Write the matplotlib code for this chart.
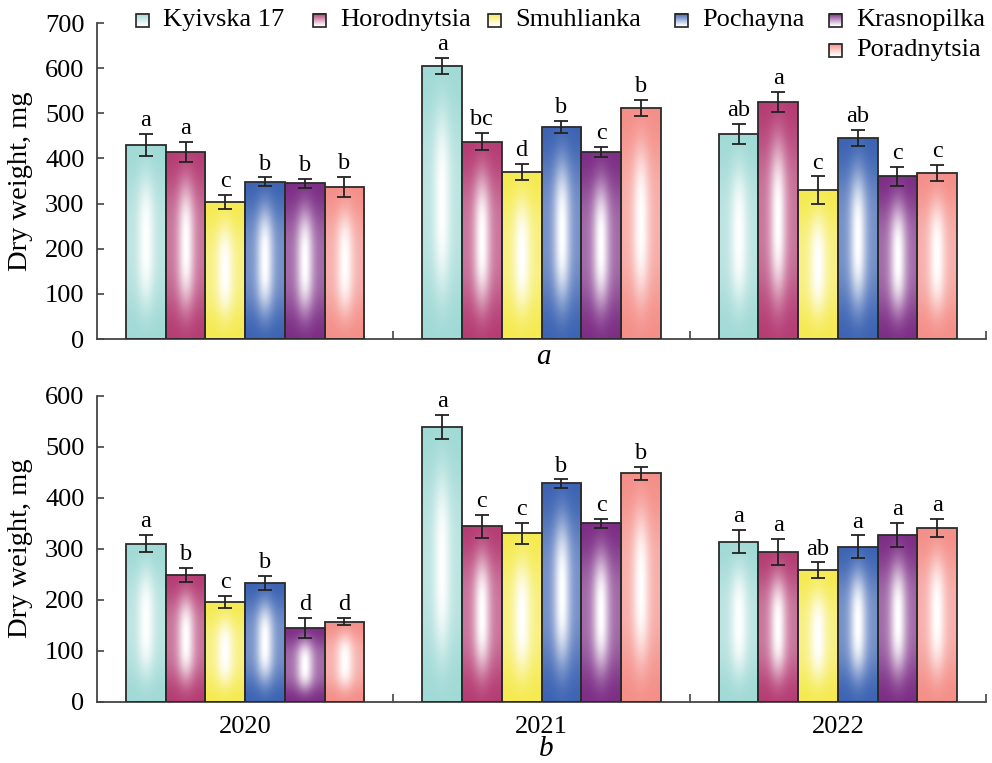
import matplotlib
matplotlib.use('Agg')
import matplotlib.pyplot as plt
import numpy as np
from matplotlib.colors import to_rgb

plt.rcParams['font.family'] = ['Liberation Serif', 'DejaVu Serif']

varieties = ['Kyivska 17', 'Horodnytsia', 'Smuhlianka', 'Pochayna', 'Krasnopilka', 'Poradnytsia']
years = ['2020', '2021', '2022']
colors = ['#9fd9d5', '#b43a72', '#f5ea4e', '#3a62b2', '#7b2b84', '#f48d87']

# panel a: rows = years, columns = varieties
dw_a = [[430, 415, 304, 348, 345, 337],
        [605, 437, 370, 470, 415, 511],
        [455, 525, 330, 445, 360, 367]]
err_a = [[25, 22, 15, 10, 10, 22],
         [17, 19, 18, 13, 11, 18],
         [22, 22, 30, 18, 22, 18]]
let_a = [['a', 'a', 'c', 'b', 'b', 'b'],
         ['a', 'bc', 'd', 'b', 'c', 'b'],
         ['ab', 'a', 'c', 'ab', 'c', 'c']]

# panel b
dw_b = [[310, 248, 196, 233, 144, 157],
        [539, 344, 330, 428, 350, 448],
        [314, 294, 258, 304, 327, 340]]
err_b = [[17, 14, 12, 13, 20, 7],
         [23, 23, 21, 8, 9, 13],
         [23, 26, 15, 22, 23, 18]]
let_b = [['a', 'b', 'c', 'b', 'd', 'd'],
         ['a', 'c', 'c', 'b', 'c', 'b'],
         ['a', 'a', 'ab', 'a', 'a', 'a']]

W = 0.134  # bar width (group width = 1)


def shade(color, n=100, m=40):
    # colour at the edges, white stripe down the middle of the bar
    base = np.array(to_rgb(color))
    dy = np.linspace(-1, 1, n)[:, None]
    dx = np.linspace(-1, 1, m)[None, :]
    hx = 0.3 + 0.7 * np.exp(-(dx / 0.42) ** 2)
    hy = np.exp(-(np.abs(dy) / 0.68) ** 3)
    w = (hx * hy)[..., None]
    return base * (1 - w) + w


def panel(ax, vals, errs, lets, ymax, show_years):
    vals = np.array(vals)
    errs = np.array(errs)
    x = np.arange(len(years))
    for j, (name, c) in enumerate(zip(varieties, colors)):
        xs = x + (j - 2.5) * W
        bars = ax.bar(xs, vals[:, j], W, facecolor='none', edgecolor='#2b2b2b',
                      linewidth=1.3, zorder=3)
        for b in bars:
            im = ax.imshow(shade(c), extent=[b.get_x(), b.get_x() + W, 0, b.get_height()],
                           origin='lower', aspect='auto', interpolation='bilinear', zorder=2)
            im.set_clip_path(b)
        ax.errorbar(xs, vals[:, j], yerr=errs[:, j], fmt='none', ecolor='#222222',
                    elinewidth=1.3, capsize=5, capthick=1.3, zorder=4)
        for k in range(len(years)):
            ax.annotate(lets[k][j], (xs[k], vals[k, j] + errs[k, j]), xytext=(0, 2),
                        textcoords='offset points', ha='center', va='bottom', fontsize=17.5)
    ax.set_xlim(-0.5, 2.5)
    ax.set_ylim(0, ymax)
    ax.set_yticks(np.arange(0, ymax + 1, 100))
    ax.set_xticks(x)
    ax.set_xticks([0.5, 1.5, 2.5], minor=True)
    ax.set_xticklabels(years if show_years else [])
    ax.tick_params(axis='x', which='major', length=0, labelsize=19, pad=10)
    ax.tick_params(axis='x', which='minor', direction='in', length=6, width=1.2, color='#444444')
    ax.tick_params(axis='y', direction='in', length=5, width=1.2, color='#444444',
                   labelsize=19, pad=9)
    for s in ['top', 'right']:
        ax.spines[s].set_visible(False)
    for s in ['left', 'bottom']:
        ax.spines[s].set_color('#444444')
        ax.spines[s].set_linewidth(1.3)
    ax.set_ylabel('Dry weight, mg', fontsize=20.5)
    ax.yaxis.set_label_coords(-0.072, 0.5)


fig = plt.figure(figsize=(9.92, 7.63), dpi=100)
ax1 = fig.add_axes([97 / 992, 1 - 339 / 763, 889 / 992, 316 / 763])
ax2 = fig.add_axes([97 / 992, 1 - 701.7 / 763, 889 / 992, 306 / 763])
panel(ax1, dw_a, err_a, let_a, 700, False)
panel(ax2, dw_b, err_b, let_b, 600, True)

# legend drawn in figure pixel coordinates
lax = fig.add_axes([0, 0, 1, 1])
lax.set_xlim(0, 992)
lax.set_ylim(763, 0)
lax.axis('off')
leg_x = [136, 313, 488, 675, 829, 829]
leg_y = [20, 20, 20, 20, 20, 50]
for name, c, lx, ly in zip(varieties, colors, leg_x, leg_y):
    g = np.linspace(0, 1, 20)[:, None, None]
    img = np.array(to_rgb(c))[None, None, :] * (1 - g) + g
    img = np.repeat(img, 10, axis=1)
    lax.imshow(img, extent=[lx, lx + 13, ly + 6.5, ly - 6.5], origin='upper',
               aspect='auto', interpolation='bilinear')
    lax.add_patch(plt.Rectangle((lx, ly - 6.5), 13, 13, facecolor='none',
                                edgecolor='#222222', linewidth=1.2))
    lax.text(lx + 27, ly, name, fontsize=19, va='center', ha='left')
lax.set_xlim(0, 992)
lax.set_ylim(763, 0)

fig.text(543 / 992, 1 - 357 / 763, 'a', fontsize=21, style='italic', ha='center', va='center')
fig.text(546 / 992, 1 - 749 / 763, 'b', fontsize=21, style='italic', ha='center', va='center')

fig.savefig('out.png', dpi=100)
